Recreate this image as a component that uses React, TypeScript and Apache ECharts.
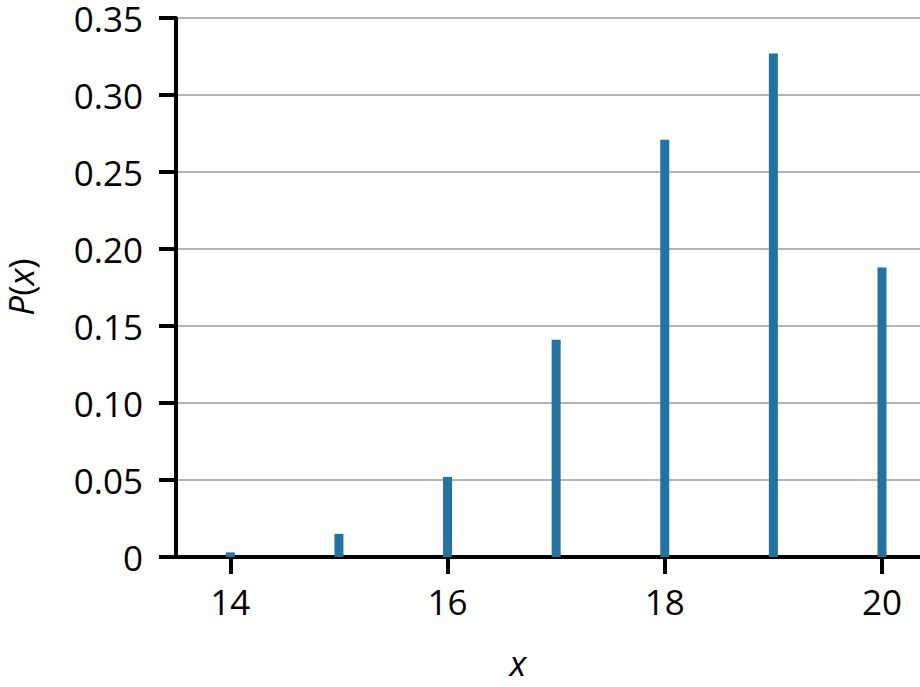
import React, { useEffect, useRef } from 'react';
import * as echarts from 'echarts';

// Probability of x successes
const xValues = [14, 15, 16, 17, 18, 19, 20];
const probabilities = [0.003, 0.015, 0.052, 0.141, 0.271, 0.327, 0.188];
const xTickValues = [14, 16, 18, 20];

const FONT = '"Open Sans", "Noto Sans", sans-serif';

const App: React.FC = () => {
  const chartRef = useRef<HTMLDivElement>(null);

  useEffect(() => {
    document.body.style.margin = '0';
    if (!chartRef.current) return;
    const chart = echarts.init(chartRef.current, undefined, { renderer: 'svg' });

    const option: echarts.EChartsOption = {
      animation: false,
      backgroundColor: '#ffffff',
      textStyle: { fontFamily: FONT },
      grid: { left: 176, right: 0, top: 18, bottom: 130, containLabel: false },
      xAxis: {
        type: 'value',
        min: 13.5,
        max: 20.35,
        axisLine: { show: true, onZero: false, lineStyle: { color: '#000', width: 4 } },
        axisTick: {
          show: true,
          customValues: xTickValues,
          length: 17,
          lineStyle: { color: '#000', width: 4 }
        },
        axisLabel: {
          customValues: xTickValues,
          color: '#000',
          fontSize: 35,
          fontFamily: FONT,
          margin: 27
        },
        splitLine: { show: false }
      },
      yAxis: {
        type: 'value',
        min: 0,
        max: 0.35,
        interval: 0.05,
        axisLine: { show: true, lineStyle: { color: '#000', width: 4 } },
        axisTick: { show: true, length: 17, lineStyle: { color: '#000', width: 4 } },
        axisLabel: {
          color: '#000',
          fontSize: 35,
          fontFamily: FONT,
          margin: 33,
          formatter: (v: number) => (v === 0 ? '0' : v.toFixed(2))
        },
        splitLine: { show: true, lineStyle: { color: '#b3b3b3', width: 2 } }
      },
      series: [
        {
          type: 'bar',
          barWidth: 9,
          itemStyle: { color: '#23729f' },
          data: xValues.map((x, i) => [x, probabilities[i]])
        }
      ],
      graphic: [
        {
          type: 'text',
          x: 518,
          y: 662,
          style: {
            text: 'x',
            font: `italic 35px ${FONT}`,
            fill: '#000',
            align: 'center',
            verticalAlign: 'middle'
          }
        },
        {
          type: 'text',
          x: 20,
          y: 287,
          rotation: Math.PI / 2,
          style: {
            text: '{i|P}({i|x})',
            font: `35px ${FONT}`,
            fill: '#000',
            align: 'center',
            verticalAlign: 'middle',
            rich: {
              i: { fontStyle: 'italic', fontSize: 35, fontFamily: FONT }
            }
          }
        }
      ]
    };

    chart.setOption(option);
    return () => chart.dispose();
  }, []);

  return <div ref={chartRef} style={{ width: 920, height: 687 }} />;
};

export default App;
